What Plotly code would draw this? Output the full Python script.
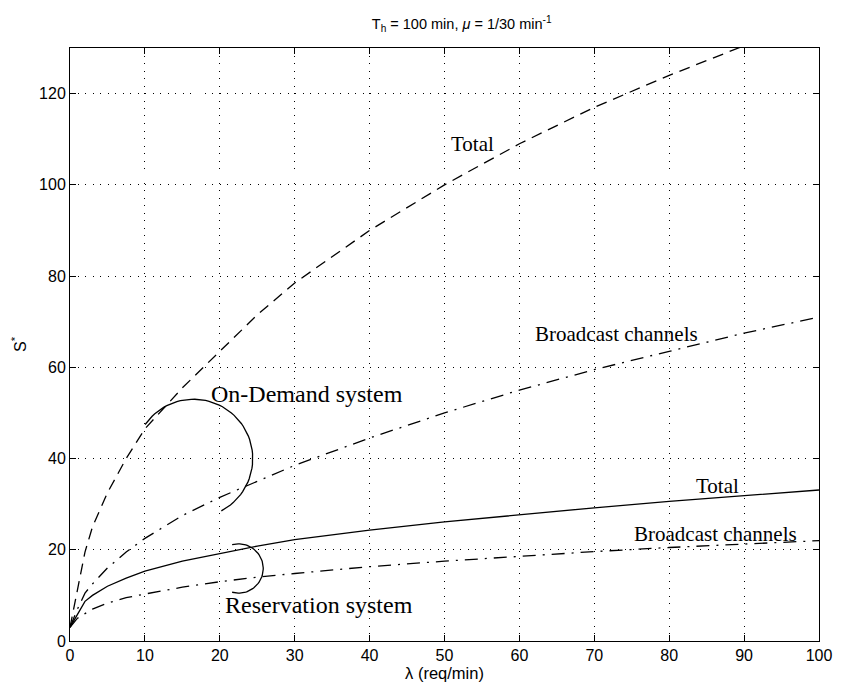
import numpy as np
import plotly.graph_objects as go

# arrival rate (req/min)
lam = [0, 0.5, 1, 2, 3, 5, 7.5, 10, 15, 20, 25, 30, 40, 50, 60, 70, 80, 90, 100]

# On-Demand system
od_total = [3, 7, 11.5, 19.5, 25, 32.5, 40, 46.5, 55.5, 63.5, 71.5, 78.5, 90, 100, 109, 117, 124, 130.5, 137]
od_broadcast = [3, 5, 7, 10.5, 12.5, 16, 19.5, 22.5, 27.5, 31.5, 35, 38.5, 44.5, 50, 55, 59.5, 63.5, 67.5, 71]

# Reservation system
rs_total = [3, 4.5, 6, 8.7, 10, 12, 13.8, 15.3, 17.5, 19.2, 20.8, 22.2, 24.3, 26.1, 27.7, 29.2, 30.6, 31.9, 33.1]
rs_broadcast = [3, 4, 5, 6, 7, 8.3, 9.5, 10.3, 11.8, 13, 14, 14.8, 16.3, 17.5, 18.6, 19.6, 20.5, 21.3, 22]

x_ticks = list(range(0, 101, 10))
y_ticks = list(range(0, 121, 20))

DASH = "11px,7px"
DASHDOT = "13px,7px,2px,7px"

fig = go.Figure()
style = dict(color="black", width=1.3)
fig.add_trace(go.Scatter(x=lam, y=od_total, mode="lines", line=dict(**style, dash=DASH)))
fig.add_trace(go.Scatter(x=lam, y=od_broadcast, mode="lines", line=dict(**style, dash=DASHDOT)))
fig.add_trace(go.Scatter(x=lam, y=rs_total, mode="lines", line=dict(**style)))
fig.add_trace(go.Scatter(x=lam, y=rs_broadcast, mode="lines", line=dict(**style, dash=DASHDOT)))

# bracket arcs grouping each system's pair of curves
def arc(cx, cy, rx, ry, a0, a1, n=60):
    t = np.radians(np.linspace(a0, a1, n))
    return cx + rx * np.cos(t), cy + ry * np.sin(t)

ax, ay = arc(16.5, 40.0, 7.9, 13.0, 145, -62)
fig.add_trace(go.Scatter(x=ax, y=ay, mode="lines", line=dict(color="black", width=1.3)))
bx, by = arc(22.5, 15.9, 3.3, 5.4, 105, -105)
fig.add_trace(go.Scatter(x=bx, y=by, mode="lines", line=dict(color="black", width=1.3)))

serif = "Liberation Serif, Times New Roman, serif"
labels = [
    ("Total", 53.8, 108.9, 21),
    ("Broadcast channels", 72.9, 67.4, 21),
    ("On-Demand system", 31.6, 54.1, 24),
    ("Total", 86.5, 33.9, 21),
    ("Broadcast channels", 86.2, 23.5, 21),
    ("Reservation system", 33.3, 7.9, 24),
]
for text, x, y, size in labels:
    fig.add_annotation(x=x, y=y, text=text, showarrow=False,
                       font=dict(family=serif, size=size, color="black"))

sans = "Liberation Sans, Arial, sans-serif"
axis_common = dict(
    showline=True, linecolor="black", linewidth=1, mirror="ticks",
    ticks="inside", ticklen=6, tickcolor="black",
    showgrid=True, gridcolor="black", griddash="1px,6.5px", gridwidth=1,
    zeroline=False,
    tickfont=dict(family=sans, size=16, color="black"),
)

fig.update_layout(
    width=844, height=690,
    margin=dict(l=70, r=17, t=48, b=44),
    paper_bgcolor="white", plot_bgcolor="white",
    showlegend=False,
    title=dict(text="T<sub>h</sub> = 100 min, <i>μ</i> = 1/30 min<sup>-1</sup>",
               x=0.547, xanchor="center", y=0.965, yanchor="middle",
               font=dict(family=sans, size=14.5, color="black")),
    xaxis=dict(range=[0, 100], tickvals=x_ticks, **axis_common,
               title=dict(text="λ (req/min)", standoff=2,
                          font=dict(family=sans, size=16.5, color="black"))),
    yaxis=dict(range=[0, 130], tickvals=y_ticks, **axis_common,
               title=dict(text="S<sup>*</sup>", standoff=8,
                          font=dict(family=sans, size=16, color="black"))),
)

fig.write_html("out.html")
